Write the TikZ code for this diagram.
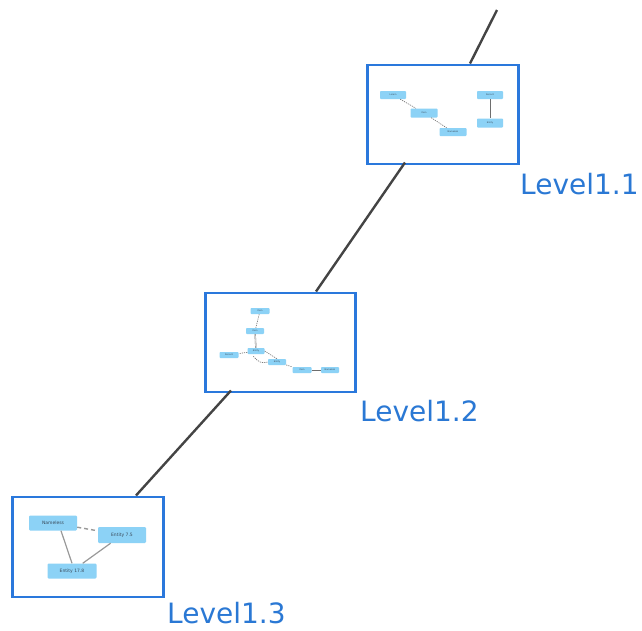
\documentclass[tikz,border=0pt]{standalone}
\usepackage{fontspec}
\setmainfont{DejaVu Sans}
\begin{document}
\begin{tikzpicture}[x=1pt,y=-1pt,
  frame/.style={draw=frameblue,line width=2.8pt,fill=white,inner sep=0pt,anchor=north west},
  lvl/.style={text=labelblue,font=\fontsize{28}{30}\selectfont,anchor=base west,inner sep=0pt,text depth=0pt},
  trunk/.style={draw=trunkgray,line width=2.4pt},
  mini/.style={fill=miniblue,rounded corners=0.8pt,inner sep=0pt,text=minitext,font=\fontsize{2.2}{2.4}\selectfont},
  medium/.style={fill=miniblue,rounded corners=1.2pt,inner sep=0pt,text=minitext,font=\fontsize{4.5}{5}\selectfont},
  mdash/.style={draw=edgegray,line width=0.6pt,dashed,dash pattern=on 1.2pt off 1pt},
  msolid/.style={draw=edgegray,line width=0.7pt},
  bdash/.style={draw=edgegray!70,line width=1.4pt,dash pattern=on 4pt off 3pt},
  bsolid/.style={draw=edgegray!70,line width=1.2pt}]
\definecolor{frameblue}{HTML}{2A78DC}
\definecolor{labelblue}{HTML}{2A78D4}
\definecolor{trunkgray}{HTML}{444444}
\definecolor{miniblue}{HTML}{8CD2F6}
\definecolor{minitext}{HTML}{3A4A5A}
\definecolor{edgegray}{HTML}{6E6E6E}
\useasboundingbox (0,0) rectangle (642,630);
% frames
\node[frame,minimum width=151pt,minimum height=99pt] (f1) at (366,63.5) {};
\node[frame,minimum width=150pt,minimum height=99pt] (f2) at (204,291.5) {};
\node[frame,minimum width=151pt,minimum height=100pt] (f3) at (11,495.5) {};
% trunk
\coordinate (top) at (497,10);
\coordinate (t1) at (470,63.5);
\coordinate (b1) at (405,162.5);
\coordinate (t2) at (316,291.5);
\coordinate (b2) at (231,390.5);
\coordinate (t3) at (136,495.5);
\draw[trunk] (top) -- (t1);
\draw[trunk] (b1) -- (t2);
\draw[trunk] (b2) -- (t3);
% labels
\node[lvl] (l1) at (520,194) {Level1.1};
\node[lvl] (l2) at (360,421) {Level1.2};
\node[lvl] (l3) at (167,623) {Level1.3};
% box 1 contents
\node[mini,minimum width=26pt,minimum height=8pt] (a1) at (393,95) {Lorem};
\node[mini,minimum width=27pt,minimum height=9pt] (a2) at (424,113) {Item};
\node[mini,minimum width=27pt,minimum height=8pt] (a3) at (453,132) {Nameless};
\node[mini,minimum width=26pt,minimum height=8pt] (a4) at (490,95) {Record};
\node[mini,minimum width=26pt,minimum height=9pt] (a5) at (490,123) {Entity};
\draw[mdash] (a1) -- (a2);
\draw[mdash] (a2) -- (a3);
\draw[msolid] (a4) -- (a5);
% box 2 contents
\node[mini,minimum width=19pt,minimum height=6pt] (c1) at (260,311) {Item};
\node[mini,minimum width=18pt,minimum height=6pt] (c2) at (255,331) {Item};
\node[mini,minimum width=17pt,minimum height=6pt] (c3) at (256,351) {Entity};
\node[mini,minimum width=19pt,minimum height=6pt] (c4) at (229,355) {Record};
\node[mini,minimum width=18pt,minimum height=6pt] (c5) at (277,362) {Entity};
\node[mini,minimum width=19pt,minimum height=6pt] (c6) at (302,370) {Item};
\node[mini,minimum width=18pt,minimum height=6pt] (c7) at (330,370) {Nameless};
\draw[mdash] (c1) -- (c2);
\draw[msolid,double,double distance=0.5pt,line width=0.4pt] (c2) -- (c3);
\draw[mdash] (c3) -- (c4);
\draw[mdash] (c3.south west) ++(6,2) .. controls (258,362) and (262,364) .. (c5.west);
\draw[mdash] (c3.east) -- (c5.north);
\draw[mdash] (c5) -- (c6);
\draw[msolid] (c6) -- (c7);
% box 3 contents
\node[medium,minimum width=48pt,minimum height=15pt] (m1) at (53,523) {Nameless};
\node[medium,minimum width=48pt,minimum height=16pt] (m2) at (122,535) {Entity 7.5};
\node[medium,minimum width=49pt,minimum height=15pt] (m3) at (72,571) {Entity 17.8};
\draw[bdash] (m1) -- (m2);
\draw[bsolid] (m1.south) ++(8,0) -- (m3.north);
\draw[bsolid] (m2) -- (m3);
\end{tikzpicture}
\end{document}
